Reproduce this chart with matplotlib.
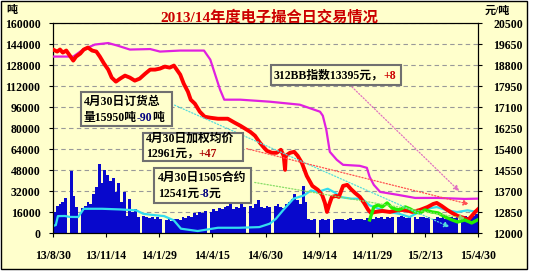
import pandas as pd
import matplotlib
matplotlib.use('Agg')
import matplotlib.pyplot as plt
from matplotlib.patches import Rectangle

plt.rcParams['font.family'] = ['Liberation Serif', 'Noto Sans CJK SC']
plt.rcParams['font.weight'] = 'bold'

BG = '#FFFFCC'
start = pd.Timestamp('2013-08-30')

# daily volume (tons), one value per 4 days, 0 = holiday
volume = [16000, 21000, 22000, 24000, 27000, 0, 47000, 28000, 20000, 0,
          19000, 21000, 24000, 22000, 30000, 35000, 53000, 38000, 48000, 44000,
          40000, 42000, 31000, 38000, 24000, 31000, 13000, 26000, 16000, 18000,
          12000, 0, 13000, 12000, 11500, 12000, 11000, 12500, 11000, 0,
          10000, 11000, 9500, 10500, 11000, 10000, 12000, 11500, 13000, 12500,
          15000, 14000, 16000, 15000, 17000, 0, 16000, 18000, 17000, 19000,
          18000, 20000, 21000, 22000, 18000, 20000, 19000, 24000, 20000, 0,
          21000, 19000, 22000, 25000, 20000, 19000, 21000, 20000, 0, 21000,
          22000, 20000, 19000, 22000, 24000, 26000, 30000, 25000, 22000, 36000,
          24000, 11000, 10000, 10500, 0, 10000, 11000, 10000, 10500, 0,
          10000, 11000, 10500, 11000, 10000, 10500, 11500, 10000, 11000, 10500,
          11000, 10000, 11500, 12000, 11000, 12000, 11500, 12500, 11000, 12000,
          11500, 12000, 0, 12000, 13000, 12500, 11500, 12000, 0, 12000,
          11000, 12500, 12000, 11500, 12000, 0, 11000, 12000, 11500, 12500,
          11000, 12000, 12500, 11500, 12000, 0, 12000, 13000, 12500, 14000,
          13000, 14500]

# order total (tons, left axis)
order_day = [0, 2, 4, 7, 17, 24, 36, 44, 70, 96, 119, 129, 139, 159, 173, 183,
             207, 236, 266, 295, 310, 319, 329, 344, 359, 369, 378, 393, 402,
             412, 427, 442, 453, 466, 481, 495, 510, 519, 534, 549, 564, 578,
             593, 608]
order = [5000, 5800, 6000, 12900, 13000, 12300, 12200, 18500, 18500, 18000,
         17300, 14700, 14000, 12900, 9600, 3300, 1500, 4000, 4000, 4500, 7100,
         10900, 17300, 26200, 28700, 32500, 31200, 33800, 31200, 27400, 26200,
         26200, 21100, 18500, 16000, 14700, 12200, 14700, 18500, 19800, 17300,
         16000, 17300, 15950]

# weighted average price (yuan/ton, right axis)
price_day = [0, 6, 10, 14, 19, 24, 29, 33, 39, 44, 50, 56, 62, 67, 73, 79, 84,
             90, 96, 103, 110, 117, 124, 132, 139, 146, 153, 160, 167, 173, 177,
             182, 187, 193, 197, 203, 210, 217, 225, 236, 250, 260, 268, 275,
             282, 289, 296, 302, 306, 313, 320, 326, 330, 332, 333, 339, 345,
             350, 356, 363, 371, 379, 385, 389, 392, 395, 399, 405, 409, 415,
             421, 426, 432, 439, 445, 451, 455, 461, 471, 482, 494, 504, 514,
             525, 536, 544, 549, 556, 564, 571, 579, 588, 594, 599, 604, 608]
price = [19443, 19361, 19443, 19320, 19402, 19199, 18995, 19158, 19280, 19443,
         19524, 19402, 19361, 19158, 18873, 18629, 18304, 18141, 18263, 18385,
         18304, 18182, 18263, 18466, 18629, 18629, 18670, 18751, 18710, 18792,
         18629, 18426, 18060, 17734, 17409, 17246, 16921, 16718, 16677, 16636,
         16636, 16474, 16352, 16230, 16108, 15945, 15660, 15457, 15335, 15254,
         15254, 15376, 15132, 14562, 15132, 15254, 15294, 15132, 14847, 14318,
         13911, 13749, 13545, 13220, 12854, 13139, 13464, 13505, 13464, 13911,
         13952, 13789, 13627, 13464, 13220, 12935, 12813, 12854, 12895, 12854,
         12935, 12935, 12854, 12935, 13057, 13179, 13220, 13098, 12935, 12813,
         12691, 12610, 12529, 12691, 12854, 12961]

# 312BB index (right axis)
index_day = [0, 29, 43, 60, 79, 92, 110, 139, 153, 182, 216, 225, 232, 239,
             245, 268, 310, 353, 382, 386, 391, 396, 406, 415, 439, 449, 453,
             459, 468, 494, 518, 551, 589, 608]
index = [19158, 19158, 19443, 19646, 19707, 19605, 19443, 19463, 19361, 19402,
         19402, 19036, 18426, 17816, 17409, 17409, 17328, 17206, 16921, 16758,
         16189, 15294, 14969, 14766, 14725, 14644, 14278, 13952, 13667, 13545,
         13423, 13423, 13382, 13395]

# 1505 contract (right axis)
c1505_day = [453, 459, 465, 471, 478, 485, 494, 504, 511, 518, 525, 532, 542,
             551, 561, 571, 579, 589, 599, 608]
c1505 = [12529, 13057, 13139, 13057, 13220, 13017, 12935, 13057, 12976, 12854,
         12813, 12935, 12854, 12813, 12651, 12529, 12447, 12529, 12407, 12541]

xtick_dates = ['2013-08-30', '2013-11-14', '2014-01-29', '2014-04-15',
               '2014-06-30', '2014-09-14', '2014-11-29', '2015-02-13',
               '2015-04-30']
xtick_labels = ['13/8/30', '13/11/14', '14/1/29', '14/4/15', '14/6/30',
                '14/9/14', '14/11/29', '15/2/13', '15/4/30']


def to_dates(days):
    return start + pd.to_timedelta(days, unit='D')


fig = plt.figure(figsize=(5.33, 2.73), dpi=100, facecolor='white')
fig.patches.append(Rectangle((0.001, 4 / 273), 526 / 533, 268 / 273,
                             transform=fig.transFigure, facecolor=BG,
                             edgecolor='black', lw=1, zorder=-10))
ax = fig.add_axes([53 / 533, 40 / 273, 425 / 533, 209.5 / 273])
ax.set_facecolor(BG)
ax2 = ax.twinx()

vol_dates = pd.date_range(start, periods=len(volume), freq='4D')
ax.bar(vol_dates, volume, width=4, align='edge', color='#0808CC', lw=0, zorder=2)
ax.plot(to_dates(order_day), order, color='#33DDEE', lw=1.6, zorder=3)

ax2.plot(to_dates(index_day), index, color='#E020E0', lw=1.6, zorder=3)
ax2.plot(to_dates(price_day), price, color='#FF0000', lw=2.8, zorder=4)
ax2.plot(to_dates(c1505_day), c1505, color='#22EE00', lw=2.4, zorder=5)

ax.set_ylim(0, 160000)
ax.set_yticks(range(0, 160001, 16000))
ax2.set_ylim(12000, 20500)
ax2.set_yticks(range(12000, 20501, 850))
ax.set_xlim(start, pd.Timestamp('2015-04-30'))
ax.set_xticks(pd.to_datetime(xtick_dates))
ax.set_xticklabels(xtick_labels)

ax.set_axisbelow(True)
ax.grid(axis='y', color='#999999', ls=(0, (4, 3)), lw=0.8)
for a in (ax, ax2):
    a.tick_params(labelsize=8.5, length=3, width=0.8)
    for s in a.spines.values():
        s.set_linewidth(0.8)
ax.tick_params(axis='x', pad=9)
ax.tick_params(axis='y', pad=6)
ax2.tick_params(axis='y', pad=8)

fig.text(12 / 533, 1 - 10.5 / 273, '吨', ha='center', va='center', fontsize=8)
fig.text(497 / 533, 1 - 10.5 / 273, '元/吨', ha='center', va='center', fontsize=8)
fig.text(269 / 533, 1 - 17 / 273, '2013/14年度电子撮合日交易情况', ha='center',
         va='center', fontsize=11, color='#CC0000')


def colored_line(x, y, parts):
    t = ax2.text(x, y, parts[0][0], color=parts[0][1], transform=ax2.transAxes,
                 va='bottom', ha='left', fontsize=8.5, zorder=21)
    for s, c in parts[1:]:
        t = ax2.annotate(s, xy=(1, 0), xycoords=t, va='bottom', ha='left',
                         color=c, fontsize=8.5, zorder=21)


def box(x0, y0, x1, y1):
    # pixel rectangle -> axes fraction
    ax2.add_patch(Rectangle(((x0 - 53) / 425, (233 - y1) / 209.5),
                            (x1 - x0) / 425, (y1 - y0) / 209.5,
                            transform=ax2.transAxes, facecolor=BG,
                            edgecolor='#707070', lw=1.5, zorder=20))


def arrow(x0, y0, target_day, target_val, color):
    ax2.annotate('', xy=(start + pd.Timedelta(days=target_day), target_val),
                 xytext=((x0 - 53) / 425, (233 - y0) / 209.5),
                 textcoords='axes fraction',
                 arrowprops=dict(arrowstyle='-|>', ls=(0, (1, 1.5)), lw=0.9,
                                 color=color, mutation_scale=8), zorder=6)


arrow(172, 104, 571, 12200, '#55DDDD')
arrow(244, 148, 599, 13140, '#FF5050')
arrow(252, 182, 594, 12570, '#88DD66')
arrow(350, 85, 584, 13620, '#E070C0')

box(81, 91.5, 172, 126)
colored_line((84 - 53) / 425, (233 - 108) / 209.5, [('4月30日订货总', 'black')])
colored_line((84 - 53) / 425, (233 - 124) / 209.5,
             [('量15950吨', 'black'), ('-90', '#000080'), ('吨', 'black')])

box(143, 133, 243, 161)
colored_line((146 - 53) / 425, (233 - 145) / 209.5, [('4月30日加权均价', 'black')])
colored_line((146 - 53) / 425, (233 - 160) / 209.5,
             [('12961元，', 'black'), ('+47', '#AA0000')])

box(154, 168, 251, 203)
colored_line((158 - 53) / 425, (233 - 184) / 209.5, [('4月30日1505合约', 'black')])
colored_line((158 - 53) / 425, (233 - 200) / 209.5,
             [('12541元', 'black'), ('-8', '#000080'), ('元', 'black')])

box(271, 65.5, 401, 85)
colored_line((274 - 53) / 425, (233 - 82) / 209.5,
             [('312BB指数13395元，', 'black'), ('+8', '#CC0000')])

fig.savefig('out.png', dpi=100, facecolor='white')
